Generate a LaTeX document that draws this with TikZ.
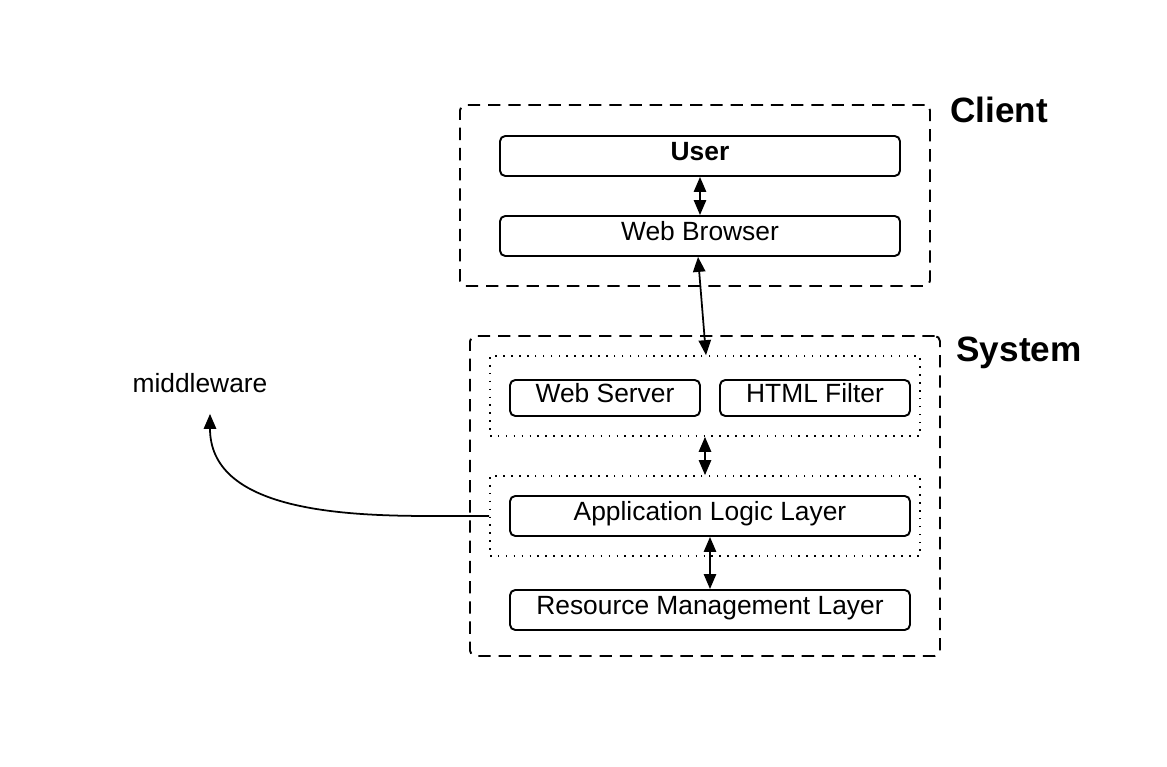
\documentclass[tikz,border=0pt]{standalone}
\usepackage{fontspec}
\setmainfont{Liberation Sans}
\usetikzlibrary{positioning, arrows.meta, calc}

\tikzset{
    layer/.style={draw, line width=1.1pt, rounded corners=3pt, minimum height=0.8cm, text height=0.72em, text depth=0.17em, font=\fontsize{15}{18}\selectfont},
    tier/.style={draw, line width=1.1pt, rounded corners=3pt, dash pattern=on 7pt off 4.5pt},
    group/.style={draw, line width=1pt, dash pattern=on 0.9pt off 3.6pt},
    link/.style={line width=1pt, {Triangle[length=8.5pt,width=7pt]}-{Triangle[length=8.5pt,width=7pt]}},
    title/.style={font=\bfseries\fontsize{20}{24}\selectfont}
}

\begin{document}
\begin{tikzpicture}
        \useasboundingbox (0,0) rectangle (23.34,15.34);

        % Client
        \node[tier, minimum width=9.4cm, minimum height=3.62cm] (client) at (13.9,11.43) {};
        \node[layer, minimum width=8cm] (user) at (14.0,12.22) {\textbf{User}};
        \node[layer, minimum width=8cm] (browser) at (14.0,10.62) {Web Browser};
        \node[title] (clientlbl) at (19.98,13.14) {Client};

        % System
        \node[tier, minimum width=9.4cm, minimum height=6.4cm] (system) at (14.1,5.42) {};
        \node[title] (systemlbl) at (20.38,8.28) {System};

        \node[group, minimum width=8.6cm, minimum height=1.6cm] (front) at (14.1,7.42) {};
        \node[layer, minimum width=3.8cm, minimum height=0.72cm] (server) at (12.1,7.38) {Web Server};
        \node[layer, minimum width=3.8cm, minimum height=0.72cm] (filter) at (16.3,7.38) {HTML Filter};

        \node[group, minimum width=8.6cm, minimum height=1.6cm] (logicgrp) at (14.1,5.02) {};
        \node[layer, minimum width=8cm] (logic) at (14.2,5.02) {Application Logic Layer};

        \node[layer, minimum width=8cm] (resource) at (14.2,3.14) {Resource Management Layer};

        \draw[link] (user.south) -- (browser.north);
        \draw[link] ([xshift=-0.04cm]browser.south) -- ([xshift=0.02cm]front.north);
        \draw[link] (front.south) -- (logicgrp.north);
        \draw[link] (logic.south) -- (resource.north);

        % middleware
        \node[font=\fontsize{15}{18}\selectfont] (middle) at (4.0,7.68) {middleware};
        \coordinate (bend) at (8.6,5.02);
        \draw[line width=1pt, -{Triangle[length=8.5pt,width=7pt]}] (logicgrp.west) -- (bend)
            to[out=180, in=-90] ([xshift=0.2cm, yshift=-0.3cm]middle.south);

    \end{tikzpicture}
\end{document}
